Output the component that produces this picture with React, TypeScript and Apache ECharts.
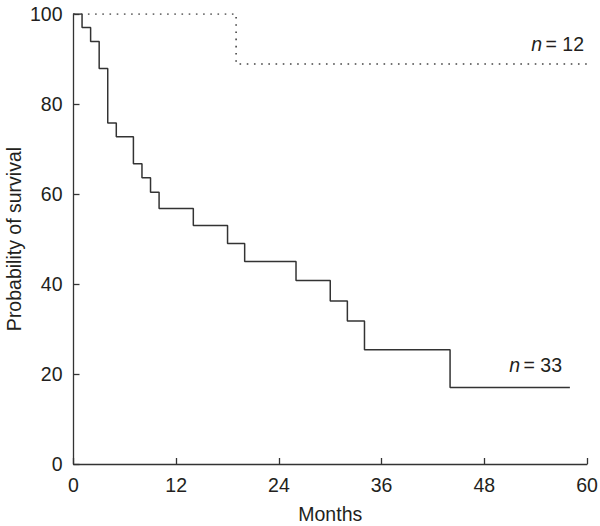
import React, { useEffect, useRef } from "react";
import * as echarts from "echarts";

const xTicks = [0, 12, 24, 36, 48, 60];
const yTicks = [0, 20, 40, 60, 80, 100];

// Kaplan–Meier step curve, n = 33 (solid)
const monthsA = [0, 1, 2, 3, 4, 5, 7, 8, 9, 10, 14, 18, 20, 26, 30, 32, 34, 44, 58];
const survA = [100, 97.0, 93.9, 87.9, 75.8, 72.7, 66.7, 63.6, 60.4, 56.8, 53.0, 49.0, 45.0, 40.8, 36.2, 31.8, 25.4, 17.0, 17.0];

// Kaplan–Meier step curve, n = 12 (dotted)
const monthsB = [0, 19, 60];
const survB = [100, 88.9, 88.9];

const labelA = "33";
const labelB = "12";

const FONT = "'Liberation Sans', Arial, Helvetica, sans-serif";
const INK = "#231f20";
const FS = 19.5;

export default function App() {
  const ref = useRef<HTMLDivElement>(null);
  useEffect(() => {
    if (!ref.current) return;
    const chart = echarts.init(ref.current, undefined, { renderer: "svg" });
    const rich = {
      i: { fontStyle: "italic", fontSize: FS, fontFamily: FONT, color: INK },
      r: { fontSize: FS, fontFamily: FONT, color: INK },
    };
    chart.setOption({
      animation: false,
      backgroundColor: "#ffffff",
      grid: { left: 73.5, right: 13, top: 14, bottom: 62, containLabel: false, outerBoundsMode: "none" },
      xAxis: {
        type: "value",
        min: 0,
        max: 60,
        interval: 12,
        name: "Months",
        nameLocation: "middle",
        nameGap: 40,
        nameMoveOverlap: false,
        nameTextStyle: { fontSize: FS, fontFamily: FONT, color: INK },
        axisLine: { lineStyle: { color: "#333", width: 1.3 } },
        axisTick: { inside: true, length: 6, lineStyle: { color: "#333", width: 1.3 } },
        axisLabel: { fontSize: FS, fontFamily: FONT, color: INK, margin: 11 },
        splitLine: { show: false },
      },
      yAxis: {
        type: "value",
        min: 0,
        max: 100,
        interval: 20,
        name: "Probability of survival",
        nameLocation: "middle",
        nameGap: 50,
        nameMoveOverlap: false,
        nameTextStyle: { fontSize: FS, fontFamily: FONT, color: INK, lineHeight: 20 },
        axisLine: { show: true, lineStyle: { color: "#333", width: 1.3 } },
        axisTick: { show: true, inside: true, length: 6, lineStyle: { color: "#333", width: 1.3 } },
        axisLabel: { fontSize: FS, fontFamily: FONT, color: INK, margin: 11 },
        splitLine: { show: false },
      },
      series: [
        {
          type: "line",
          step: "end",
          symbol: "none",
          data: monthsA.map((m, i) => [m, survA[i]]),
          lineStyle: { color: "#333", width: 1.5, type: "solid" },
        },
        {
          type: "line",
          step: "end",
          symbol: "none",
          data: monthsB.map((m, i) => [m, survB[i]]),
          lineStyle: { color: "#444", width: 1.6, type: [1.6, 5.6] },
        },
      ],
      graphic: [
        {
          type: "text",
          right: 16,
          top: 34,
          style: { text: `{i|n} {r|= ${labelB}}`, rich, fill: INK },
        },
        {
          type: "text",
          right: 38,
          top: 355,
          style: { text: `{i|n} {r|= ${labelA}}`, rich, fill: INK },
        },
      ],
    });
    return () => chart.dispose();
  }, []);
  return <div ref={ref} style={{ width: 600, height: 526, position: "absolute", left: 0, top: 0 }} />;
}
